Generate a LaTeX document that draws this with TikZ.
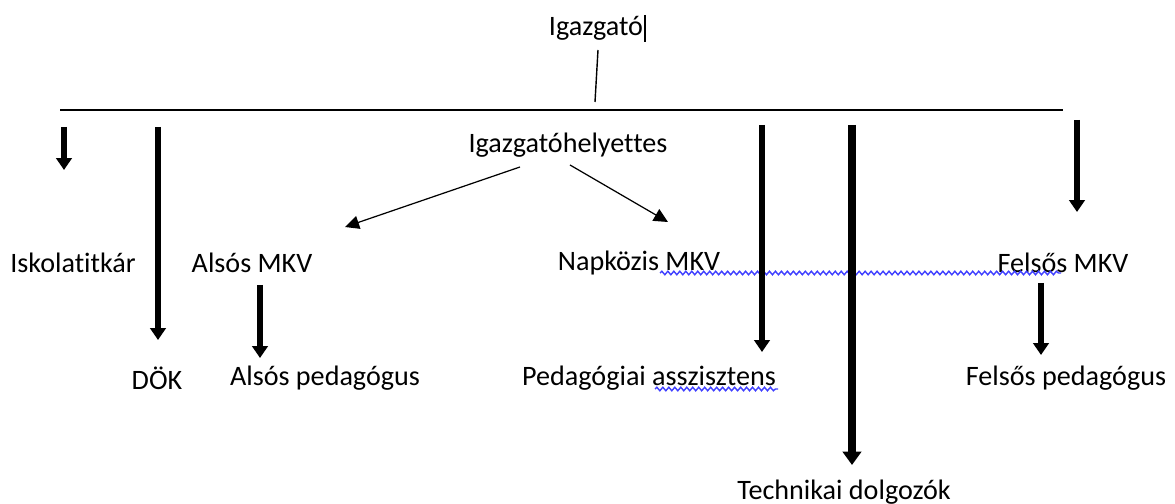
\documentclass[tikz,border=0pt]{standalone}
\usepackage{fontspec}
\setmainfont{Carlito}[Ligatures = NoCommon]
\usetikzlibrary{
    arrows.meta,
    decorations.pathmorphing,
    positioning
}
\tikzset{
    every picture/.style = {
        x = 0.01cm,
        y = -0.01cm
    },
    every node/.style = {
        inner sep = 1pt,
        outer sep = 0pt,
        font = \fontsize{8pt}{10pt}\selectfont
    },
    thin arrow/.style = {
        -{Triangle[width = 3.8pt, length = 4pt]},
        line width = 0.35pt
    },
    fat arrow/.style = {
        -{Triangle[width = 4.4pt, length = 3.4pt]},
        line width = 1.7pt
    },
    fatter arrow/.style = {
        -{Triangle[width = 5.2pt, length = 3.8pt]},
        line width = 2.4pt
    },
    squiggle/.style = {
        draw = blue!75,
        line width = 0.4pt,
        decorate,
        decoration = {snake, segment length = 1.7pt, amplitude = 0.5pt}
    }
}

\begin{document}
\begin{tikzpicture}
    % \draw[step = 100, lightgray, very thin] (0, 0) grid (1175, 504);
    \useasboundingbox (0, 0) rectangle (1175, 504);

    \node (ig)   at (596, 28)  {Igazgató};
    \node (ih)   at (568, 145) {Igazgatóhelyettes};
    \node (isk)  at (73, 263)  {Iskolatitkár};
    \node (amkv) at (252, 263) {Alsós MKV};
    \node (nmkv) at (639, 263) {Napközis MKV};
    \node (fmkv) at (1063, 263) {Felsős MKV};
    \node (dok)  at (157, 378) {DÖK};
    \node (aped) at (325, 378) {Alsós pedagógus};
    \node (pasz) at (649, 378) {Pedagógiai asszisztens};
    \node (fped) at (1066, 378) {Felsős pedagógus};
    \node (tech) at (844, 492) {Technikai dolgozók};

    % text cursor
    \draw[line width = 0.5pt] (645, 15) -- (645, 42);

    % spell check lines
    \draw[squiggle] (660, 273) -- (1061, 273);
    \draw[squiggle] (655, 389) -- (778, 389);

    \coordinate (ig-foot) at (598, 50);
    \coordinate (bar-mid) at (595, 102);
    \coordinate (bar-l) at (60, 110);
    \coordinate (bar-r) at (1063, 110);
    \draw[line width = 0.4pt] (ig-foot) -- (bar-mid);
    \draw[line width = 0.5pt] (bar-l) -- (bar-r);

    % drops from the bar
    \coordinate (isk-top) at (64, 127);  \coordinate (isk-end) at (64, 170);
    \coordinate (dok-top) at (158, 127); \coordinate (dok-end) at (158, 340);
    \coordinate (pasz-top) at (762, 125); \coordinate (pasz-end) at (762, 352);
    \coordinate (tech-top) at (852, 125); \coordinate (tech-end) at (852, 465);
    \coordinate (fmkv-top) at (1077, 120); \coordinate (fmkv-end) at (1077, 212);
    \draw[fat arrow] (isk-top) -- (isk-end);
    \draw[fat arrow] (dok-top) -- (dok-end);
    \draw[fat arrow] (pasz-top) -- (pasz-end);
    \draw[fatter arrow] (tech-top) -- (tech-end);
    \draw[fat arrow] (fmkv-top) -- (fmkv-end);

    % lower level
    \coordinate (amkv-foot) at (260, 285); \coordinate (aped-head) at (260, 358);
    \coordinate (fmkv-foot) at (1041, 283); \coordinate (fped-head) at (1041, 355);
    \draw[fat arrow] (amkv-foot) -- (aped-head);
    \draw[fat arrow] (fmkv-foot) -- (fped-head);

    % deputy
    \coordinate (ih-l) at (520, 167); \coordinate (amkv-head) at (345, 227);
    \coordinate (ih-r) at (570, 165); \coordinate (nmkv-head) at (668, 222);
    \draw[thin arrow] (ih-l) -- (amkv-head);
    \draw[thin arrow] (ih-r) -- (nmkv-head);
\end{tikzpicture}
\end{document}
